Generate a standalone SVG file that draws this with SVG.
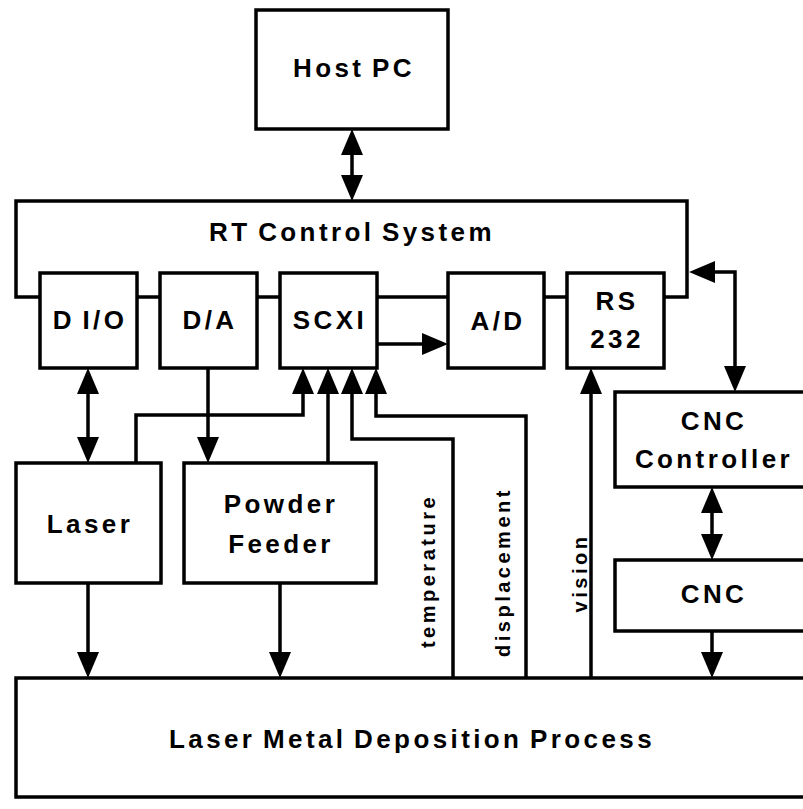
<svg xmlns="http://www.w3.org/2000/svg" width="803" height="809" viewBox="0 0 803 809">
<style>
.box{fill:#fff;stroke:#000;stroke-width:3.5}
.ln{fill:none;stroke:#000;stroke-width:3.5}
.t{font-family:"Liberation Sans",Arial,sans-serif;font-weight:bold;font-size:26px;letter-spacing:3.4px;word-spacing:-3px;fill:#000;text-anchor:middle}
.s{font-size:20px;letter-spacing:3.5px}
</style>
<defs>
<marker id="ah" markerUnits="userSpaceOnUse" markerWidth="26" markerHeight="22" refX="20" refY="11" orient="auto-start-reverse" viewBox="0 0 26 22">
<path d="M0,0 L26,11 L0,22 z" fill="#000"/>
</marker>
</defs>
<rect width="803" height="809" fill="#fff"/>
<g id="connectors">
<path class="ln" d="M40,297 L16,297 L16,201 L687,201 L687,297 L665,297"/>
<path class="ln" d="M137,297 L160,297 M257,297 L280,297 M377,297 L448,297 M544,297 L567,297"/>
<path class="ln" d="M352,135 L352,195" marker-start="url(#ah)" marker-end="url(#ah)"/>
<path class="ln" d="M377,344 L442,344" marker-end="url(#ah)"/>
<path class="ln" d="M695,272 L735,272 L735,386" marker-start="url(#ah)" marker-end="url(#ah)"/>
<path class="ln" d="M88,374 L88,457" marker-start="url(#ah)" marker-end="url(#ah)"/>
<path class="ln" d="M208,368 L208,457" marker-end="url(#ah)"/>
<path class="ln" d="M136,463 L136,415 L303,415 L303,374" marker-end="url(#ah)"/>
<path class="ln" d="M328,463 L328,374" marker-end="url(#ah)"/>
<path class="ln" d="M453,678 L453,439 L352,439 L352,374" marker-end="url(#ah)"/>
<path class="ln" d="M526,678 L526,416 L376,416 L376,374" marker-end="url(#ah)"/>
<path class="ln" d="M591,678 L591,374" marker-end="url(#ah)"/>
<path class="ln" d="M712,493 L712,554" marker-start="url(#ah)" marker-end="url(#ah)"/>
<path class="ln" d="M712,631 L712,672" marker-end="url(#ah)"/>
<path class="ln" d="M88,583 L88,672" marker-end="url(#ah)"/>
<path class="ln" d="M280,583 L280,672" marker-end="url(#ah)"/>
<text class="t s" transform="rotate(-90 435 571)" x="435" y="571">temperature</text>
<text class="t s" transform="rotate(-90 510 572)" x="510" y="572">displacement</text>
<text class="t s" transform="rotate(-90 587 573)" x="587" y="573">vision</text>
</g>
<g id="host-pc"><rect class="box" x="256" y="10" width="192" height="119"/><text class="t" x="354" y="77">Host PC</text></g>
<g id="rt-control"><text class="t" x="352" y="241">RT Control System</text></g>
<g id="dio"><rect class="box" x="40" y="273" width="97" height="95"/><text class="t" x="90" y="329">D I/O</text></g>
<g id="da"><rect class="box" x="160" y="273" width="97" height="95"/><text class="t" x="210" y="329">D/A</text></g>
<g id="scxi"><rect class="box" x="280" y="273" width="97" height="95"/><text class="t" x="330" y="329">SCXI</text></g>
<g id="ad"><rect class="box" x="448" y="273" width="96" height="95"/><text class="t" x="498" y="330">A/D</text></g>
<g id="rs232"><rect class="box" x="567" y="273" width="97" height="95"/><text class="t" x="617" y="310">RS</text><text class="t" x="617" y="348">232</text></g>
<g id="laser"><rect class="box" x="16" y="463" width="145" height="120"/><text class="t" x="90" y="533">Laser</text></g>
<g id="powder-feeder"><rect class="box" x="184" y="463" width="192" height="120"/><text class="t" x="281" y="513">Powder</text><text class="t" x="281" y="553">Feeder</text></g>
<g id="cnc-controller"><rect class="box" x="615" y="392" width="200" height="95"/><text class="t" x="714" y="430">CNC</text><text class="t" x="714" y="468">Controller</text></g>
<g id="cnc"><rect class="box" x="615" y="560" width="200" height="71"/><text class="t" x="714" y="603">CNC</text></g>
<g id="lmd"><rect class="box" x="16" y="678" width="800" height="119"/><text class="t" x="412" y="748">Laser Metal Deposition Process</text></g>
</svg>
